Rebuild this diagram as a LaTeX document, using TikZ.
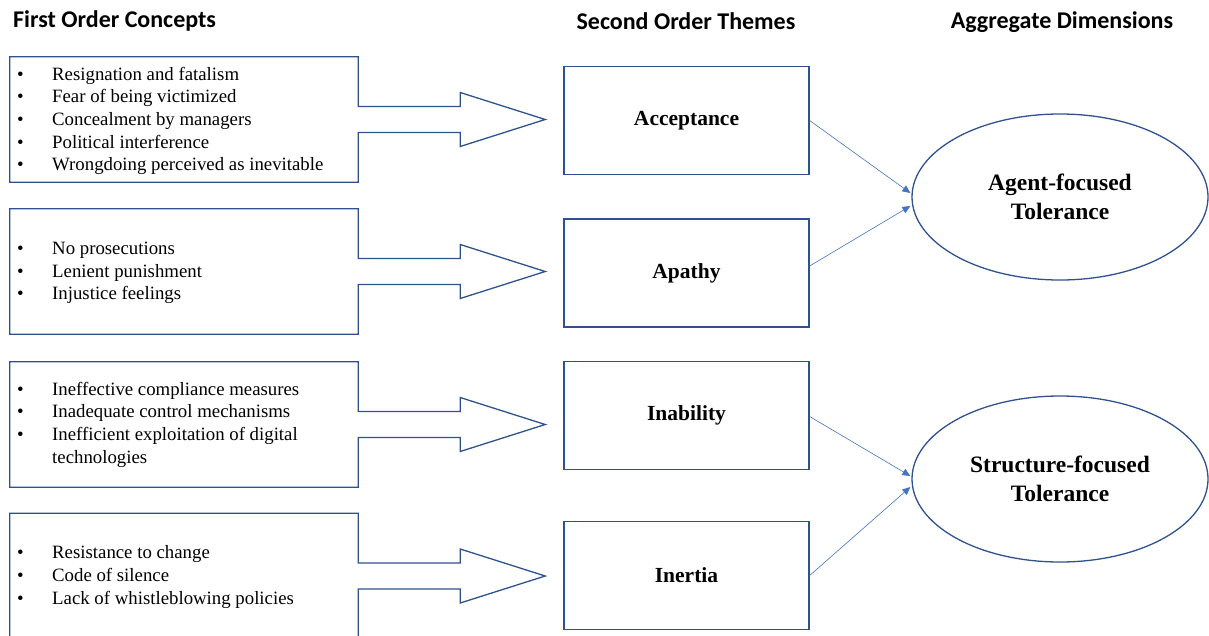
\documentclass[tikz,border=0pt]{standalone}
\usepackage{fontspec}
\setmainfont{Liberation Serif}
\newfontfamily\hdrfont{Carlito}
\usetikzlibrary{arrows.meta,calc,shapes.geometric}
\definecolor{boxblue}{HTML}{2F528F}
\definecolor{linkblue}{HTML}{4472C4}
\newcommand{\blt}{\makebox[35pt][l]{•}}
\begin{document}
\begin{tikzpicture}[x=1pt,y=-1pt,
  hdr/.style={font=\hdrfont\bfseries\fontsize{24}{28}\selectfont, inner sep=0},
  srcbox/.style={rectangle, minimum width=348pt, minimum height=125pt, inner sep=0},
  callout/.style={draw=boxblue, line width=1.3pt, line join=miter},
  items/.style={anchor=west, align=left, inner sep=0, font=\fontsize{18.8}{22.7}\selectfont},
  themebox/.style={rectangle, draw=boxblue, line width=1.3pt, minimum width=245pt, minimum height=108pt, inner sep=0, font=\bfseries\fontsize{21.5}{25}\selectfont},
  dimell/.style={ellipse, draw=boxblue, line width=1.3pt, minimum width=296pt, minimum height=166pt, inner sep=0, align=center, font=\bfseries\fontsize{23.5}{29}\selectfont},
  link/.style={draw=linkblue, line width=0.6pt, -{Triangle[length=8pt,width=7pt]}}
]
\useasboundingbox (0,0) rectangle (1209,635);
\clip (0,0) rectangle (1209,635);

% headers
\node[hdr, anchor=west] (H1) at (13,21) {First Order Concepts};
\node[hdr] (H2) at (686,21) {Second Order Themes};
\node[hdr] (H3) at (1062,22) {Aggregate Dimensions};

% first order boxes (callouts)
\node[srcbox] (L1) at (184,119.5) {};
\node[srcbox] (L2) at (184,271.5) {};
\node[srcbox] (L3) at (184,424.5) {};
\node[srcbox] (L4) at (184,576) {};
\foreach \b in {L1,L2,L3,L4}{
  \draw[callout] (\b.north west) -- (\b.north east) -- ($(\b.east)+(0,-13)$) -- ++(102,0) -- ++(0,-14)
    -- ++(85,27) -- ++(-85,27) -- ++(0,-14) -- ++(-102,0) -- (\b.south east) -- (\b.south west) -- cycle;
}

\node[items] (T1) at (17,121) {\blt Resignation and fatalism\\ \blt Fear of being victimized\\ \blt Concealment by managers\\ \blt Political interference\\ \blt Wrongdoing perceived as inevitable};
\node[items] (T2) at (17,273) {\blt No prosecutions\\ \blt Lenient punishment\\ \blt Injustice feelings};
\node[items] (T3) at (17,424.5) {\blt Ineffective compliance measures\\ \blt Inadequate control mechanisms\\ \blt Inefficient exploitation of digital\\ \hspace*{35pt}technologies};
\node[items] (T4) at (17,577) {\blt Resistance to change\\ \blt Code of silence\\ \blt Lack of whistleblowing policies};

% second order themes
\node[themebox] (S1) at (686.5,120.5) {Acceptance};
\node[themebox] (S2) at (686.5,273) {Apathy};
\node[themebox] (S3) at (686.5,415.5) {Inability};
\node[themebox] (S4) at (686.5,575.5) {Inertia};

% aggregate dimensions
\node[dimell] (E1) at (1060,197) {Agent-focused\\Tolerance};
\node[dimell] (E2) at (1060,479) {Structure-focused\\Tolerance};

% connectors
\draw[link] (S1.east) -- ($(E1.west)+(-1,-4)$);
\draw[link] ($(S2.east)+(0,-7)$) -- ($(E1.west)+(-1,9)$);
\draw[link] ($(S3.east)+(0,1)$) -- ($(E2.west)+(-1,-3)$);
\draw[link] (S4.east) -- ($(E2.west)+(-1,8)$);
\end{tikzpicture}
\end{document}
